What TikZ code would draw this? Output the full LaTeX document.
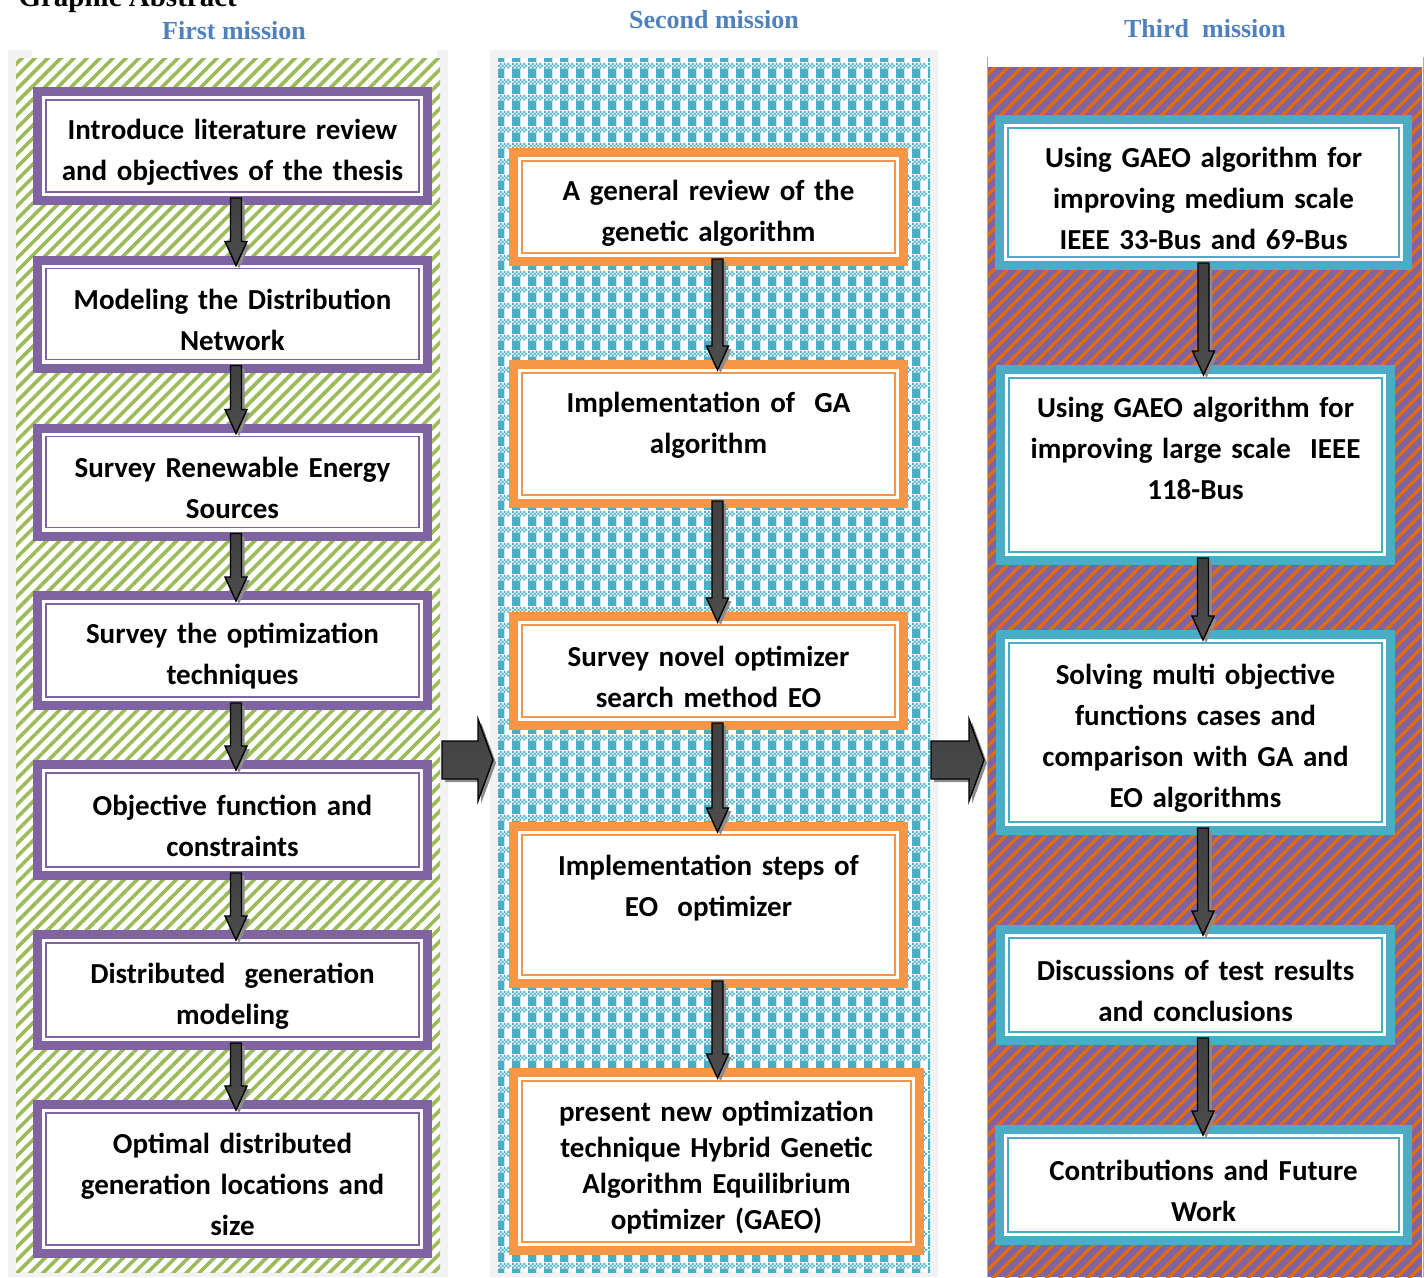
\documentclass[tikz,border=0pt]{standalone}
\usepackage{fontspec}
\setmainfont{Liberation Serif}
\newfontfamily\boxfont{Carlito}
\usetikzlibrary{calc,patterns.meta}

\definecolor{purp}{HTML}{8064A2}
\definecolor{orng}{HTML}{F79646}
\definecolor{aqua}{HTML}{4BACC6}
\definecolor{leaf}{HTML}{9BBB59}
\definecolor{rust}{HTML}{E36C09}
\definecolor{heading}{HTML}{4F81BD}
\definecolor{framegray}{HTML}{F2F2F2}

% small checks and big blocks
\tikzdeclarepattern{
  name=gingham,
  type=uncolored,
  bounding box={(0pt,0pt) and (16pt,16pt)},
  tile size={(16pt,16pt)},
  code={
    \fill (0pt,0pt) rectangle (9pt,10pt);
    \fill (0pt,10pt) rectangle +(2pt,2pt) (4pt,10pt) rectangle +(2pt,2pt)
          (8pt,10pt) rectangle +(2pt,2pt) (12pt,10pt) rectangle +(2pt,2pt)
          (2pt,12pt) rectangle +(2pt,2pt) (6pt,12pt) rectangle +(2pt,2pt)
          (10pt,12pt) rectangle +(2pt,2pt) (14pt,12pt) rectangle +(2pt,2pt)
          (0pt,14pt) rectangle +(2pt,2pt) (4pt,14pt) rectangle +(2pt,2pt)
          (8pt,14pt) rectangle +(2pt,2pt) (12pt,14pt) rectangle +(2pt,2pt);
  }
}

\begin{document}
\begin{tikzpicture}[
    x=1pt, y=-1pt,
    grow=down,
    task/.style={draw=#1, line width=9pt, fill=white, minimum width=390,
      text width=372, inner sep=8pt, align=center,
      font=\boxfont\bfseries\fontsize{29}{41}\selectfont,
      execute at begin node={\rule{0pt}{32pt}},
      path picture={\draw[#1, line width=1.3pt]
        ([shift={(8.5pt,-8.5pt)}]path picture bounding box.north west) rectangle
        ([shift={(-8.5pt,8.5pt)}]path picture bounding box.south east);}},
    mission/.style={font=\bfseries\fontsize{26}{30}\selectfont, text=heading, anchor=base},
    panel/.style={inner sep=0pt, outer sep=0pt, draw=none},
    blockarrow/.style={draw=black, line width=1.4pt, line join=miter,
      top color=black!75, middle color=black, bottom color=black!70,
      preaction={fill=black!45, transform canvas={shift={(3pt,-3pt)}}}},
    edge from parent/.style={blockarrow},
    downarrow/.style={edge from parent path={
      let \p1=(\tikzparentnode.south), \p2=(\tikzchildnode.north) in
      (\x1+#1-5.5pt,\y1+7pt) -- (\x1+#1+5.5pt,\y1+7pt) -- (\x1+#1+5.5pt,\y2+14pt)
      -- (\x1+#1+11pt,\y2+14pt) -- (\x1+#1,\y2-10pt) -- (\x1+#1-11pt,\y2+14pt)
      -- (\x1+#1-5.5pt,\y2+14pt) -- cycle}},
  ]
  \useasboundingbox (0,0) rectangle (1426,1277);

  % backgrounds of the three columns
  \fill[framegray] (8,50) rectangle (448,1277);
  \fill[white] (32,50) rectangle (437,58);
  \fill[framegray] (490,50) rectangle (938,1277);
  \node[panel, minimum width=424, minimum height=1214, preaction={fill=white},
    pattern={Lines[angle=45,distance=9.2pt,line width=3.6pt]}, pattern color=leaf]
    (first) at (228,665) {};
  \node[panel, minimum width=432, minimum height=1214, preaction={fill=white},
    pattern=gingham, pattern color=aqua] (second) at (714,665) {};
  \node[panel, minimum width=434, minimum height=1210, preaction={fill=purp},
    pattern={Lines[angle=45,distance=9.5pt,line width=3.2pt]}, pattern color=rust]
    (third) at (1205,672) {};
  \draw[purp!60, line width=1pt] (987,57) -- (987,1277);
  \draw[purp!60, line width=1pt] (1423,57) -- (1423,1277);

  \node[anchor=base west, font=\bfseries\fontsize{29}{34}\selectfont] (abstract) at (15,6) {Graphic Abstract};
  \node[mission] (m1) at (234,39) {First mission};
  \node[mission] (m2) at (714,28) {Second mission};
  \node[mission] (m3) at (1205,37) {Third\ \ mission};

  \node[task=purp, minimum height=109] (lit) at (232.5,146)
    {Introduce literature review\\and objectives of the thesis}
    [downarrow=3.5pt]
    child[level distance=168] {
      node[task=purp, minimum height=108] (net) {Modeling the Distribution\\Network}
      child[level distance=168] {
        node[task=purp, minimum height=108] (res) {Survey Renewable Energy\\Sources}
        child[level distance=168.5] {
          node[task=purp, minimum height=110] (tech) {Survey the optimization\\techniques}
          child[level distance=169.5] {
            node[task=purp, minimum height=111] (obj) {Objective function and\\constraints}
            child[level distance=170] {
              node[task=purp, minimum height=111] (dg) {Distributed\ \ generation\\modeling}
              child[level distance=189] {
                node[task=purp, minimum height=149] (loc)
                  {Optimal distributed\\generation locations and\\size}
              }
            }
          }
        }
      }
    };

  \node[task=orng, minimum height=109] (ga) at (708.5,207)
    {A general review of the\\genetic algorithm}
    [downarrow=9pt]
    child[level distance=227] {
      node[task=orng, minimum height=139] (impga) {Implementation of\ \ GA\\algorithm\\[-7pt]\mbox{}}
      child[level distance=237] {
        node[task=orng, minimum height=109] (eo) {Survey novel optimizer\\search method EO}
        child[level distance=234] {
          node[task=orng, minimum height=157] (impeo) {Implementation steps of\\EO\ \ optimizer\\[9pt]\mbox{}}
          child[level distance=256.5] {
            node[task=orng, minimum height=178, minimum width=406, xshift=8,
              font=\boxfont\bfseries\fontsize{29}{36}\selectfont] (gaeo)
              {present new optimization\\technique Hybrid Genetic\\Algorithm Equilibrium\\optimizer (GAEO)}
          }
        }
      }
    };

  \node[task=aqua, minimum height=146, minimum width=408] (medium) at (1203.5,192.5)
    {Using GAEO algorithm for\\improving medium scale\\IEEE 33-Bus and 69-Bus}
    [downarrow=0pt]
    child[level distance=272.5] {
      node[task=aqua, minimum height=191, xshift=-8] (large)
        {Using GAEO algorithm for\\improving large scale\ \ IEEE\\118-Bus\\[5pt]\mbox{}}
      child[level distance=267.5, downarrow=7.5pt] {
        node[task=aqua, minimum height=196] (multi)
          {Solving multi objective\\functions cases and\\comparison with GA and\\EO algorithms}
        child[level distance=252.5] {
          node[task=aqua, minimum height=111] (disc) {Discussions of test results\\and conclusions}
          child[level distance=200] {
            node[task=aqua, minimum height=111, minimum width=408, xshift=8] (future)
              {Contributions and Future\\Work}
          }
        }
      }
    };

  % arrows from one mission to the next
  \coordinate (level) at (700,760);
  \path[blockarrow] let \p1=(first.east |- level), \p2=(second.west |- level) in
    (\x1+2pt,\y1+19pt) -- (\x2-20pt,\y1+19pt) -- (\x2-20pt,\y1+41pt) -- (\x2-5pt,\y1)
    -- (\x2-20pt,\y1-41pt) -- (\x2-20pt,\y1-19pt) -- (\x1+2pt,\y1-19pt) -- cycle;
  \path[blockarrow] let \p1=(second.east |- level), \p2=(third.west |- level) in
    (\x1+1pt,\y1+19pt) -- (\x2-19pt,\y1+19pt) -- (\x2-19pt,\y1+41pt) -- (\x2-4pt,\y1)
    -- (\x2-19pt,\y1-41pt) -- (\x2-19pt,\y1-19pt) -- (\x1+1pt,\y1-19pt) -- cycle;
\end{tikzpicture}
\end{document}
